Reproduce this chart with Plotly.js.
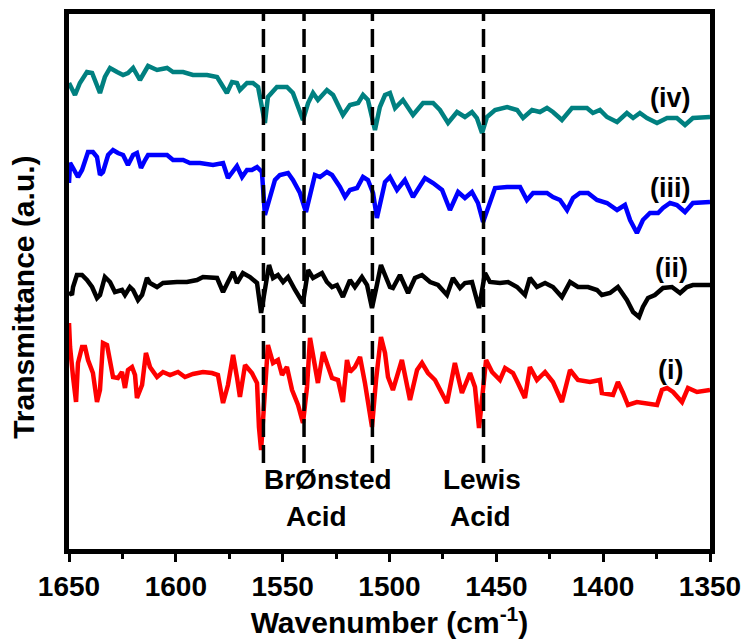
<!DOCTYPE html>
<html><head><meta charset="utf-8">
<script src="https://cdn.plot.ly/plotly-3.0.1.min.js"></script>
<style>html,body{margin:0;padding:0;background:#fff}#chart{width:746px;height:641px}</style>
</head><body><div id="chart"></div>
<script>
// Spectrum (iv) - teal
const wn_iv = [1650,1647.2,1644.9,1641.6,1639.2,1637.8,1635.5,1633.2,1630.8,1627.5,1624.7,1622.4,1620,1616.8,1614.4,1613,1608.8,1604.1,1601.3,1596.6,1592,1585.4,1580.7,1577.9,1576.1,1573.7,1571.4,1570,1566.7,1563.9,1561.5,1558.3,1556.9,1552.7,1548,1545.2,1540.5,1538.1,1535.8,1533.5,1529.3,1526.4,1521.8,1518.5,1514.7,1512.4,1510.1,1506.8,1504.5,1502.1,1499.8,1497.4,1493.7,1489,1484.3,1479.6,1476.4,1472.6,1468.4,1464.7,1461.4,1459.1,1456.7,1454.4,1450.6,1445,1440.3,1437.5,1433.3,1429.6,1426.3,1423.5,1419.3,1414.6,1407.6,1404.8,1401.5,1398.2,1393.5,1388.9,1386,1382.8,1379.5,1374.8,1370.1,1365.5,1361.7,1358,1354.7,1350];
const t_iv = [46.6,45.4,46.6,47.7,47.6,46.9,45.6,47.2,48.1,47.7,47.4,47.6,48.1,46.9,47.9,48.3,47.9,48.1,47.7,47.7,47.4,47.4,47.2,46.2,45.6,46.7,46.6,45.9,46.6,46.6,46.2,42.6,45.2,46.2,46.2,45.6,42.9,44.6,45.6,44.9,45.9,45.4,43.4,44.4,44.6,45.4,44.9,41.9,44.2,45.4,45.6,44.1,44.9,43.4,44.6,44.6,43.9,42.6,43.7,43.2,43.7,43.1,41.6,43.2,43.9,44.2,43.9,43.1,43.9,43.7,44.1,43.7,42.9,44.1,44.1,43.6,43.9,43.2,42.7,43.6,43.1,43.6,43.1,42.6,43.1,43.1,42.4,43.1,43.1,43.2];

// Spectrum (iii) - blue
const wn_iii = [1650,1649.5,1648.1,1645.8,1643.9,1641.1,1638.8,1636.9,1635.5,1634.1,1631.7,1629.4,1627.1,1624.7,1622.4,1620,1618.2,1616.3,1614.4,1613,1608.8,1604.1,1601.3,1596.6,1593.4,1588.7,1582.6,1577.9,1575.6,1573.2,1571.4,1569,1566.7,1564.4,1562,1559.7,1558.3,1555.9,1553.6,1551.3,1547.5,1545.2,1541.9,1539.1,1537.2,1534.9,1532.5,1529.3,1526.9,1523.2,1520.8,1518.5,1515.2,1512.4,1510.1,1507.7,1505.9,1503.5,1502.1,1499.8,1496.5,1492.8,1489,1483.4,1479.6,1475.4,1471.7,1467.9,1464.7,1461.4,1458.6,1456.2,1454.4,1450.6,1445,1438.9,1435.7,1432.8,1426.3,1423.5,1420.2,1416.9,1414.1,1410.9,1407.1,1402.9,1398.2,1393.5,1389.8,1387.4,1384.2,1381.4,1378.1,1374.3,1372,1368.7,1365.5,1361.7,1358,1353.3,1350];
const t_iii = [36.6,38.6,38.1,37.2,37.9,39.7,39.7,39.2,37.4,37.7,39.4,39.9,39.6,39.4,38.4,39.4,39.6,38.1,38.9,39.4,39.4,39.4,38.9,38.9,38.6,38.6,38.4,38.6,37.1,37.9,38.3,37.2,37.9,37.9,38.2,37.7,33.4,35.2,36.9,37.4,37.6,36.9,35.6,33.7,35.6,37.4,37.2,37.7,37.4,36.2,35.2,35.9,36.1,37.2,36.9,35.6,33.1,35.6,36.7,37.2,35.9,36.9,35.2,37.1,36.6,35.9,33.9,35.7,35.1,35.7,34.6,32.7,33.9,36.1,36.2,36.2,34.9,35.6,35.6,35.2,34.9,33.9,35.1,35.6,35.6,34.9,34.6,33.9,34.4,32.9,31.6,32.9,33.6,33.6,34.1,34.6,34.4,33.7,34.6,34.6,34.7];

// Spectrum (ii) - black
const wn_ii = [1650,1648.6,1648.1,1646.3,1643.9,1641.6,1639.2,1636.9,1635.5,1633.2,1630.8,1628.5,1625.2,1623.8,1621.5,1620,1617.7,1615.8,1613.5,1612.1,1608.8,1606,1599.5,1594.8,1590.1,1587.3,1580.7,1577.9,1575.6,1573.2,1571.4,1568.6,1565.3,1562,1560.1,1558.3,1556.4,1554.5,1552.2,1549.8,1547.5,1544.2,1540.5,1538.1,1535.8,1531.6,1529.3,1526.9,1524.6,1521.8,1518.5,1516.2,1512.9,1510.5,1508.2,1505.9,1504,1502.1,1499.8,1498.4,1495.1,1491.3,1488.1,1484.8,1481,1477.3,1473.1,1470.3,1467,1464.7,1461.4,1458.1,1455.3,1453,1448.3,1444.5,1440.3,1436.6,1434.3,1431,1427.2,1423.5,1419.3,1415.5,1411.8,1407.1,1402.9,1400.6,1396.8,1393.1,1388.9,1386,1383.2,1381.4,1379,1375.8,1372,1367.8,1364,1360.8,1358,1350];
const t_ii = [25.7,25.4,26.2,27.4,27.4,26.9,26.2,25.1,25.4,27.2,26.7,25.7,25.9,25.4,26.2,25.9,24.9,25.4,27.1,26.6,26.2,26.6,26.7,26.7,26.9,27.2,27.1,25.7,26.7,27.7,26.6,27.6,27.2,26.6,23.6,26.2,28.4,27.1,27.4,26.7,27.2,25.9,24.6,27.9,27.1,27.6,26.7,26.2,26.4,25.2,26.9,26.2,27.2,26.4,24.1,26.4,28.4,27.4,26.2,26.1,27.4,25.6,27.1,27.4,26.7,26.4,25.4,27.1,26.1,26.6,26.7,24.1,27.6,26.7,26.6,26.7,26.2,25.4,27.1,26.2,26.6,26.2,25.2,26.7,26.2,26.2,25.9,25.4,25.6,26.2,24.9,23.7,23.2,24.2,25.1,25.4,26.1,26.2,25.6,26.2,26.4,26.4];

// Spectrum (i) - red
const wn_i = [1650,1649.5,1648.1,1646.7,1645.8,1643.9,1642.5,1641.1,1638.8,1636.9,1635.5,1634.1,1632.2,1630.8,1629.4,1627.1,1625.2,1623.8,1622.4,1620.5,1619.1,1618.2,1615.8,1614,1612.1,1608.8,1606,1602.7,1599,1595.7,1592,1587.3,1583.1,1580.3,1577.9,1575.6,1573.2,1571.4,1570,1567.6,1564.4,1562,1561.1,1560.1,1558.7,1556.9,1554.5,1552.2,1550.3,1548,1545.6,1542.8,1540.5,1538.6,1537.2,1535.8,1533.5,1531.1,1528.8,1526.9,1524.1,1521.8,1519.9,1518.5,1516.2,1513.8,1511.5,1510.1,1508.2,1506.3,1504,1502.1,1500.7,1498.4,1494.2,1490.4,1487.1,1484.8,1482,1478.7,1473.1,1469.4,1466.1,1462.3,1460,1458.1,1454.8,1452,1448.3,1445.9,1442.2,1439.9,1436.6,1434.3,1431,1427.2,1423.5,1419.3,1415.5,1411.8,1406.2,1401.5,1400.6,1395.4,1393.1,1390.7,1388.4,1384.2,1379.5,1374.8,1372.5,1370.1,1367.3,1363.1,1360.3,1356.1,1350];
const t_i = [22.6,20.2,17.2,14.7,18.6,20.2,20.2,18.9,17.6,14.7,15.9,20.6,20.4,18.9,17.2,17.1,17.7,16.1,17.9,18.2,17.4,15.1,16.4,19.6,18.2,17.2,17.7,17.4,17.7,17.2,17.5,17.7,17.6,17.4,14.6,16.4,19.4,17.2,15.2,18.4,17.6,16.6,12.2,9.9,14.2,20.4,18.6,18.9,17.4,18.2,15.9,14.4,12.6,16.2,21.1,19.2,16.6,19.7,18.1,17.1,16.9,14.7,18.9,17.7,18.2,19.2,16.6,14.6,12.2,16.9,21.2,19.6,17.2,15.9,18.9,14.9,17.9,18.6,17.6,16.9,14.6,18.6,15.6,17.6,16.2,12.1,18.9,17.7,16.9,18.1,17.6,16.6,15.1,18.2,16.9,17.7,16.7,14.7,17.9,16.9,16.7,16.9,15.6,15.4,16.7,15.6,14.4,14.7,14.6,14.4,15.9,16.1,15.7,14.7,16.1,15.7,15.9];

const seriesLabels = ["(i)", "(ii)", "(iii)", "(iv)"];
const labelWn = [1368.7, 1367.8, 1368.7, 1368.7];
const labelT = [17.9, 28.1, 36.1, 45.1];

// Marked band positions (dashed lines)
const bandWn = [1559, 1540, 1508, 1456];
const bandBottom = 8.6;

const acidLabels = ["Br\u00D8nsted", "Acid", "Lewis", "Acid"];
const acidWn = [1529, 1534, 1456.7, 1457.6];
const acidT = [7.0, 3.3, 7.0, 3.3];

const xTicks = [1650, 1600, 1550, 1500, 1450, 1400, 1350];

const FONT = "Liberation Sans, Arial, sans-serif";

const traces = [
  {x: wn_i, y: t_i, color: "#ff0000"},
  {x: wn_ii, y: t_ii, color: "#000000"},
  {x: wn_iii, y: t_iii, color: "#0000ff"},
  {x: wn_iv, y: t_iv, color: "#008080"}
].map(s => ({x: s.x, y: s.y, type: "scatter", mode: "lines",
  line: {color: s.color, width: 4.5}, showlegend: false, hoverinfo: "skip"}));

const shapes = bandWn.map(w => ({type: "line", xref: "x", yref: "y",
  x0: w, x1: w, y0: bandBottom, y1: 53.5,
  line: {color: "#000", width: 3.5, dash: "18px,8px"}}));

const annotations = [];
seriesLabels.forEach((t, i) => annotations.push({x: labelWn[i], y: labelT[i], xref: "x", yref: "y",
  text: t, showarrow: false, font: {family: FONT, size: 27, color: "#000", weight: 700}}));
acidLabels.forEach((t, i) => annotations.push({x: acidWn[i], y: acidT[i], xref: "x", yref: "y",
  text: t, showarrow: false, font: {family: FONT, size: 28, color: "#000", weight: 700}}));
annotations.push({xref: "paper", yref: "paper", x: -0.072, y: 0.471, textangle: -90,
  text: "Transmittance (a.u.)", showarrow: false, xanchor: "center", yanchor: "middle",
  font: {family: FONT, size: 30, color: "#000", weight: 700}});

const layout = {
  width: 746, height: 641,
  margin: {l: 69, r: 36, t: 14, b: 92},
  paper_bgcolor: "#fff", plot_bgcolor: "#fff",
  font: {family: FONT, color: "#000", weight: 700},
  xaxis: {
    range: [1650, 1350], tickvals: xTicks, ticktext: xTicks.map(String),
    ticks: "outside", ticklen: 8, tickwidth: 3, tickcolor: "#000",
    minor: {dtick: 25, tick0: 1350, ticks: "outside", ticklen: 5, tickwidth: 3, tickcolor: "#000"},
    showline: true, linewidth: 5, linecolor: "#000", mirror: true,
    showgrid: false, zeroline: false,
    tickfont: {family: FONT, size: 28, color: "#000", weight: 700},
    title: {text: "Wavenumber (cm<sup>-1</sup>)", font: {family: FONT, size: 30, color: "#000", weight: 700}, standoff: 9}
  },
  yaxis: {
    range: [0, 53.5], showticklabels: false, ticks: "",
    showline: true, linewidth: 5, linecolor: "#000", mirror: true,
    showgrid: false, zeroline: false
  },
  shapes: shapes,
  annotations: annotations
};

Plotly.newPlot("chart", traces, layout, {displayModeBar: false, staticPlot: true});
</script>
</body></html>
